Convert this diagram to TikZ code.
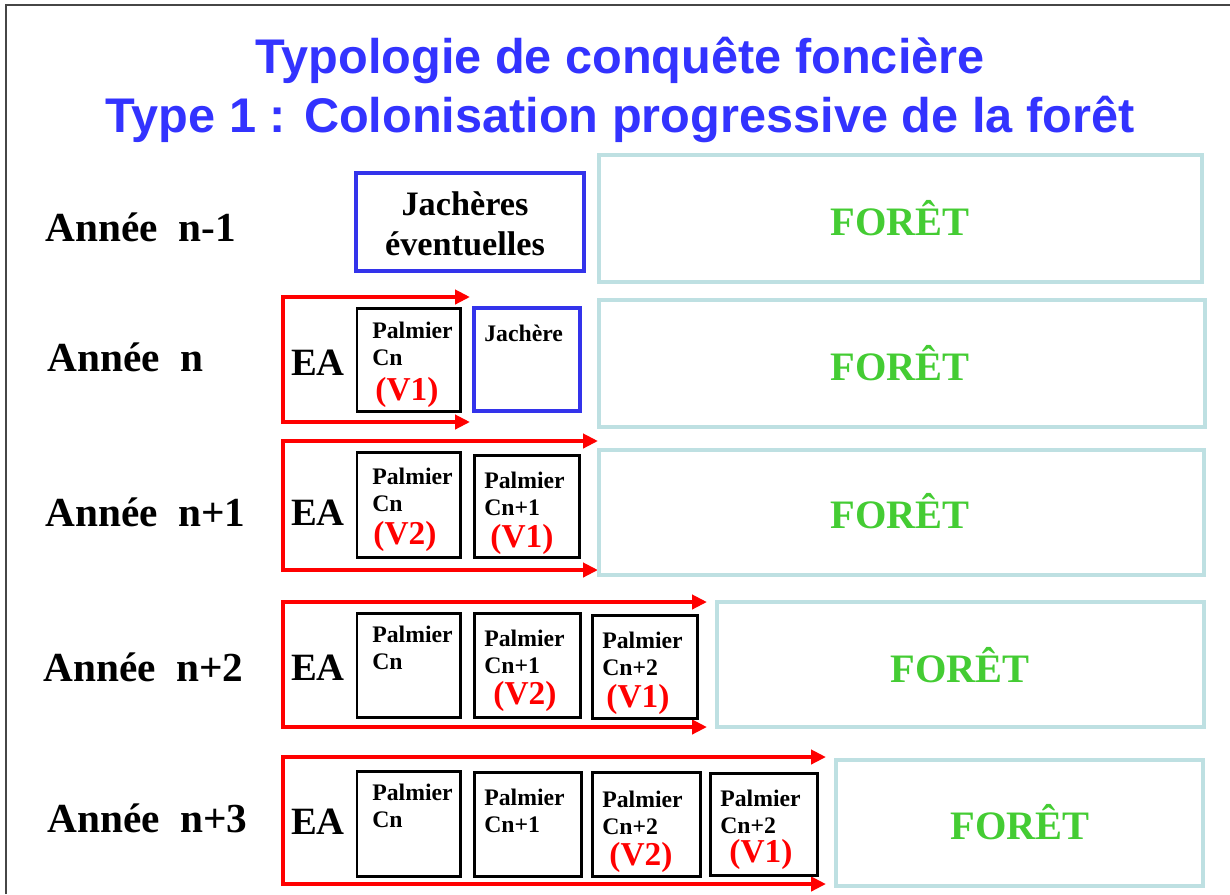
\documentclass[tikz,border=0pt]{standalone}
\usepackage{fontspec}
\setmainfont{Liberation Serif}
\newfontfamily\titlefont{Liberation Sans}
\usetikzlibrary{arrows.meta,fit,positioning}
\definecolor{titleblue}{RGB}{51,51,255}
\definecolor{jachblue}{RGB}{51,51,235}
\definecolor{foretgreen}{RGB}{68,204,51}
\definecolor{foretcyan}{RGB}{190,224,226}
\definecolor{framegray}{RGB}{70,70,70}

\begin{document}
\begin{tikzpicture}[x=0.02cm,y=-0.02cm,
  title/.style={anchor=base,font=\titlefont\bfseries\fontsize{27.7}{33}\selectfont,text=titleblue},
  year/.style={anchor=west,inner sep=0pt,font=\bfseries\fontsize{23.5}{28}\selectfont},
  ea/.style={inner sep=0pt,font=\bfseries\fontsize{22}{26}\selectfont},
  foret/.style={draw=foretcyan,line width=2.8pt,inner sep=0pt},
  ftxt/.style={inner sep=0pt,text=foretgreen,font=\bfseries\fontsize{23}{28}\selectfont},
  jach/.style={draw=jachblue,line width=1.9pt,inner sep=0pt},
  jtxt/.style={inner sep=0pt,align=center,font=\bfseries\fontsize{19.5}{22.5}\selectfont},
  palm/.style={draw=black,line width=1.7pt,inner sep=0pt},
  ptxt/.style={anchor=north west,inner sep=0pt,align=left,
    font=\bfseries\fontsize{13.5}{15.2}\selectfont},
  vtxt/.style={inner sep=0pt,text=red,font=\bfseries\fontsize{19}{22}\selectfont},
  eaarrow/.style={draw=red,line width=2.3pt,
    {Triangle[length=8.5pt,width=8pt]}-{Triangle[length=8.5pt,width=8pt]}}]
  \useasboundingbox (0,0) rectangle (1230,894);
  \draw[framegray,line width=0.9pt] (6,894) -- (6,5) -- (1230,5);

  % titre
  \node[title] (t1) at (620,73) {Typologie de conquête foncière};
  \node[title] (t2) at (620,132) {Type 1 : Colonisation progressive de la forêt};

  % annees
  \node[year] (y0) at (45,227) {Année\ \ n-1};
  \node[year] (y1) at (47,357) {Année\ \ n};
  \node[year] (y2) at (45,512) {Année\ \ n+1};
  \node[year] (y3) at (43,667) {Année\ \ n+2};
  \node[year] (y4) at (47,818) {Année\ \ n+3};

  % fleches EA
  \foreach \i/\t/\b/\r in {1/297/422/470,2/441/570/598,3/602/727/707,4/757/884/826} {
    \coordinate (ea\i tr) at (\r,\t);
    \coordinate (ea\i tl) at (283,\t);
    \coordinate (ea\i bl) at (283,\b);
    \coordinate (ea\i br) at (\r,\b);
    \draw[eaarrow] (ea\i tr) -- (ea\i tl) -- (ea\i bl) -- (ea\i br);
  }
  \node[ea] (ea1) at (318,363) {EA};
  \node[ea] (ea2) at (318,513) {EA};
  \node[ea] (ea3) at (318,668) {EA};
  \node[ea] (ea4) at (318,822) {EA};

  % annee n-1
  \node[jach,fit={(356,173) (584,271)}] (j0) {};
  \node[jtxt] (j0txt) at (465,224) {Jachères\\éventuelles};
  \node[foret,fit={(599,155) (1202,282)}] (f0) {};
  \node[ftxt] (f0txt) at (900,218) {FORÊT};

  % annee n
  \node[palm,fit={(357,308) (460,411)}] (p11) {};
  \node[ptxt] (p11txt) at (372,322) {Palmier\\Cn};
  \node[vtxt] (v11) at (407,392) {(V1)};
  \node[jach,fit={(474,308) (580,411)}] (j1) {};
  \node[ptxt] (j1txt) at (484,325) {Jachère};
  \node[foret,fit={(599,300) (1205,427)}] (f1) {};
  \node[ftxt] (f1txt) at (900,363) {FORÊT};

  % annee n+1
  \node[palm,fit={(357,452) (460,557)}] (p21) {};
  \node[ptxt] (p21txt) at (372,468) {Palmier\\Cn};
  \node[vtxt] (v21) at (405,536) {(V2)};
  \node[palm,fit={(474,455) (579,557)}] (p22) {};
  \node[ptxt] (p22txt) at (484,472) {Palmier\\Cn+1};
  \node[vtxt] (v22) at (522,539) {(V1)};
  \node[foret,fit={(599,450) (1204,575)}] (f2) {};
  \node[ftxt] (f2txt) at (900,511) {FORÊT};

  % annee n+2
  \node[palm,fit={(357,613) (460,717)}] (p31) {};
  \node[ptxt] (p31txt) at (372,626) {Palmier\\Cn};
  \node[palm,fit={(474,613) (580,717)}] (p32) {};
  \node[ptxt] (p32txt) at (484,630) {Palmier\\Cn+1};
  \node[vtxt] (v32) at (525,696) {(V2)};
  \node[palm,fit={(592,615) (697,718)}] (p33) {};
  \node[ptxt] (p33txt) at (602,632) {Palmier\\Cn+2};
  \node[vtxt] (v33) at (638,699) {(V1)};
  \node[foret,fit={(717,602) (1204,727)}] (f3) {};
  \node[ftxt] (f3txt) at (960,665) {FORÊT};

  % annee n+3
  \node[palm,fit={(357,771) (460,876)}] (p41) {};
  \node[ptxt] (p41txt) at (372,784) {Palmier\\Cn};
  \node[palm,fit={(474,772) (581,876)}] (p42) {};
  \node[ptxt] (p42txt) at (484,789) {Palmier\\Cn+1};
  \node[palm,fit={(592,772) (700,876)}] (p43) {};
  \node[ptxt] (p43txt) at (602,791) {Palmier\\Cn+2};
  \node[vtxt] (v43) at (641,857) {(V2)};
  \node[palm,fit={(710,773) (817,875)}] (p44) {};
  \node[ptxt] (p44txt) at (720,790) {Palmier\\Cn+2};
  \node[vtxt] (v44) at (761,854) {(V1)};
  \node[foret,fit={(836,760) (1203,886)}] (f4) {};
  \node[ftxt] (f4txt) at (1020,822) {FORÊT};
\end{tikzpicture}
\end{document}
